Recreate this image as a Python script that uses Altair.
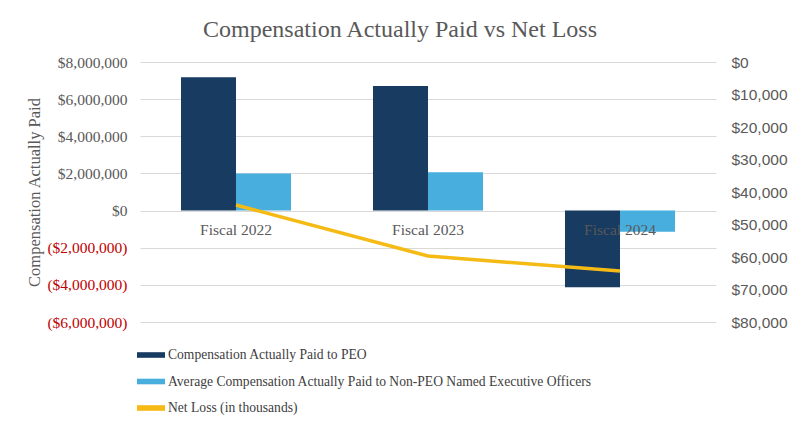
import altair as alt
import pandas as pd

categories = ["Fiscal 2022", "Fiscal 2023", "Fiscal 2024"]
peo = [7180000, 6710000, -4130000]
non_peo = [1990000, 2060000, -1140000]
net_loss = [44000, 59700, 64300]

s_peo = "Compensation Actually Paid to PEO"
s_non = "Average Compensation Actually Paid to Non-PEO Named Executive Officers"
s_loss = "Net Loss (in thousands)"

bars_df = pd.DataFrame({
    "category": categories * 2,
    "series": [s_peo] * 3 + [s_non] * 3,
    "value": peo + non_peo,
})
line_df = pd.DataFrame({"category": categories, "loss": net_loss})
cat_df = pd.DataFrame({"category": categories, "zero": [0, 0, 0]})

serif = "Liberation Serif"
sans = "Liberation Sans"
gray = "#595959"

color_scale = alt.Scale(domain=[s_peo, s_non, s_loss],
                        range=["#173B61", "#47AEDE", "#F5BA14"])
x_scale = alt.Scale(domain=categories, paddingInner=0.427, paddingOuter=0.2135)
left_dom = [-6000000, 8000000]

bars = alt.Chart(bars_df).mark_bar().encode(
    x=alt.X("category:N", scale=x_scale, axis=None, sort=categories),
    xOffset=alt.XOffset("series:N", sort=[s_peo, s_non]),
    y=alt.Y("value:Q", scale=alt.Scale(domain=left_dom, nice=False),
            axis=alt.Axis(
                orient="left",
                values=[-6000000, -4000000, -2000000, 0, 2000000, 4000000, 6000000, 8000000],
                labelExpr="datum.value < 0 ? '($' + format(-datum.value, ',') + ')' : '$' + format(datum.value, ',')",
                labelColor={"expr": "datum.value < 0 ? '#C00000' : '#595959'"},
                labelFont=serif, labelFontSize=15.5, labelPadding=13,
                domain=False, ticks=False, grid=True, gridColor="#D9D9D9", gridWidth=1,
                title="Compensation Actually Paid", titleFont=serif, titleFontSize=16.5,
                titleFontWeight="normal", titleColor=gray, titleX=-98, titleY=130,
            )),
    color=alt.Color("series:N", scale=color_scale, legend=alt.Legend(
        title=None, orient="none", legendX=-3, legendY=279, direction="vertical",
        symbolType="M-1,-0.2H1V0.2H-1Z", symbolSize=784, symbolStrokeWidth=0,
        labelFont=serif, labelFontSize=13.6, labelColor="#404040", labelLimit=700,
        labelOffset=3, rowPadding=5.5, padding=0,
    )),
)

cats = alt.Chart(cat_df).mark_text(font=serif, fontSize=15.5, color=gray, dy=19, baseline="middle").encode(
    x=alt.X("category:N", scale=x_scale, axis=None, sort=categories),
    y=alt.Y("zero:Q", scale=alt.Scale(domain=left_dom, nice=False), axis=None),
    text="category:N",
)

line = alt.Chart(line_df).mark_line(strokeWidth=3.5).encode(
    x=alt.X("category:N", scale=x_scale, axis=None, sort=categories),
    y=alt.Y("loss:Q", scale=alt.Scale(domain=[0, 80000], reverse=True, nice=False),
            axis=alt.Axis(orient="right", values=[0, 10000, 20000, 30000, 40000, 50000, 60000, 70000, 80000],
                          labelExpr="'$' + format(datum.value, ',')",
                          labelFont=sans, labelFontSize=15.5, labelColor=gray,
                          labelPadding=15, domain=False, ticks=False, grid=False, title=None)),
    color=alt.datum(s_loss),
)

chart = alt.layer(bars, cats, line).resolve_scale(y="independent").properties(
    width=576, height=260,
    title=alt.TitleParams("Compensation Actually Paid vs Net Loss", font=serif, fontSize=24,
                          fontWeight="normal", color=gray, anchor="middle", dx=-28, offset=13),
    autosize=alt.AutoSizeParams(type="none"),
    padding={"left": 132, "top": 54, "right": 76, "bottom": 102},
    background="white",
).configure_view(stroke=None)

chart.save("out.html", embed_options={"renderer": "svg", "actions": False})
